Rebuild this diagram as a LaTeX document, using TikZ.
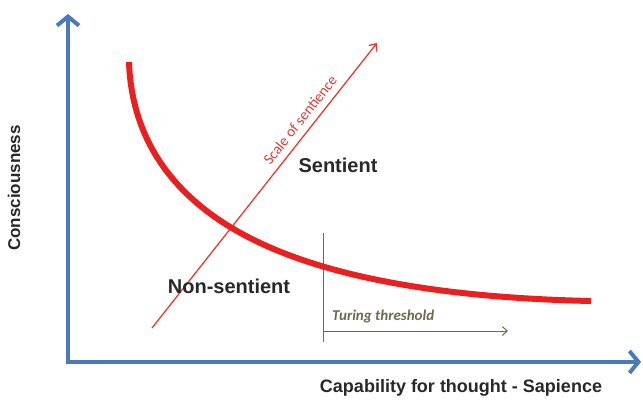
\documentclass[tikz,border=0pt]{standalone}
\usepackage{fontspec}
\setmainfont{Liberation Sans}
\newfontfamily\calib{Carlito}
\usetikzlibrary{arrows.meta}
\definecolor{axisblue}{RGB}{74,122,188}
\definecolor{curvered}{RGB}{232,32,32}
\definecolor{scalered}{RGB}{226,60,50}
\definecolor{turing}{RGB}{110,106,78}
\definecolor{labelgray}{RGB}{40,40,40}
\tikzset{
  axis/.style={draw=axisblue, line width=4pt, line join=miter,
    {Straight Barb[length=9pt,width=22pt]}-{Straight Barb[length=9pt,width=22pt]}},
  boldlabel/.style={font=\bfseries\fontsize{20}{22}\selectfont, text=labelgray, inner sep=0pt},
  axislabel/.style={font=\bfseries\fontsize{17}{19}\selectfont, text=labelgray, inner sep=0pt},
  thinarrow/.style={-{Straight Barb[length=6pt,width=10pt]}},
}
\begin{document}
\begin{tikzpicture}[x=1pt,y=-1pt]
\useasboundingbox (0,0) rectangle (643,404);
% axes
\coordinate (ytop) at (68,14);
\coordinate (origin) at (68,362);
\coordinate (xend) at (641,362);
\draw[axis] (ytop) -- (origin) -- (xend);
\node[axislabel, rotate=90] (ylab) at (14,188) {Consciousness};
\node[axislabel, font=\bfseries\fontsize{18}{20}\selectfont, anchor=base] (xlab) at (461,392) {Capability for thought - Sapience};
% scale of sentience
\coordinate (sbot) at (152,328);
\coordinate (stop) at (377,43);
\draw[scalered, line width=1.3pt, thinarrow] (sbot) -- (stop);
\node[font=\calib\fontsize{15}{17}\selectfont, text=scalered, rotate=51.7, inner sep=0pt] (scale) at (300,120) {Scale of sentience};
% Turing threshold
\coordinate (tt) at (323,233);
\coordinate (tb) at (323,342);
\coordinate (ta) at (323,331);
\coordinate (te) at (508,331);
\draw[turing, line width=1pt] (tt) -- (tb);
\draw[turing, line width=1pt, -{Straight Barb[length=5pt,width=9pt]}] (ta) -- (te);
\node[font=\calib\bfseries\itshape\fontsize{15}{17}\selectfont, text=turing, anchor=base west, inner sep=0pt] (tlab) at (332,320) {Turing threshold};
% boundary curve
\coordinate (cstart) at (129,62);
\coordinate (cmid) at (250,238);
\coordinate (cend) at (591,301);
\draw[curvered, line width=6pt] (cstart) .. controls (132,150) and (185,205) .. (cmid)
  .. controls (330,279) and (450,298) .. (cend);
% region labels
\node[boldlabel, anchor=base] (sent) at (338,172) {Sentient};
\node[boldlabel, anchor=base] (nons) at (229,293) {Non-sentient};
\end{tikzpicture}
\end{document}
